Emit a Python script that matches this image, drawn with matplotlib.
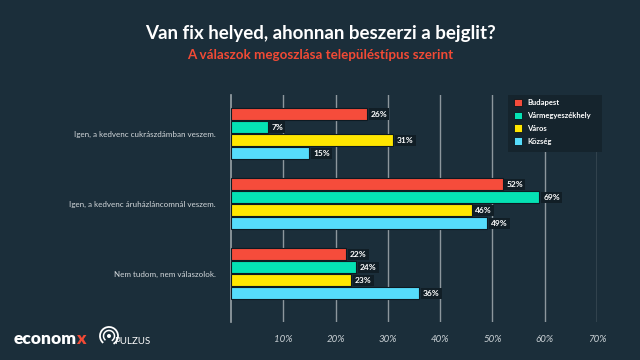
import matplotlib
matplotlib.use("Agg")
import matplotlib.pyplot as plt
import numpy as np
from matplotlib.patches import Rectangle, Arc, Circle

categories = ["Igen, a kedvenc cukrászdámban veszem.",
              "Igen, a kedvenc áruházláncomnál veszem.",
              "Nem tudom, nem válaszolok."]
series = ["Budapest", "Vármegyeszékhely", "Város", "Község"]
values = {
    "Budapest": [26, 52, 22],
    "Vármegyeszékhely": [7, 59, 24],
    "Város": [31, 46, 23],
    "Község": [15, 49, 36],
}
value_labels = {
    "Budapest": ["26%", "52%", "22%"],
    "Vármegyeszékhely": ["7%", "69%", "24%"],
    "Város": ["31%", "46%", "23%"],
    "Község": ["15%", "49%", "36%"],
}
xticks = [10, 20, 30, 40, 50, 60, 70]
xtick_labels = ["10%", "20%", "30%", "40%", "50%", "60%", "70%"]
colors = ["#f64c3b", "#05e2b4", "#ffe600", "#56dcfb"]

BG = "#1b2e3a"
plt.rcParams['font.family'] = ['Lato', 'DejaVu Sans']

fig = plt.figure(figsize=(6.4, 3.6), dpi=100, facecolor=BG)
ax = fig.add_axes([231/640, 1-322/360, (597-231)/640, (322-95)/360])
ax.set_facecolor("none")

step = 0.186
height = 0.172
y0 = np.arange(len(categories))
for i, s in enumerate(series):
    ys = y0 + (i - 1.5) * step
    ax.barh(ys, values[s], height=height, color=colors[i],
            edgecolor="#0d1a22", linewidth=0.8, zorder=3)
    for y, v, lab in zip(ys, values[s], value_labels[s]):
        ax.text(v + 0.7, y, lab, va="center", ha="left", color="white",
                fontsize=6, fontweight="bold", zorder=4,
                bbox=dict(boxstyle="square,pad=0.25", fc="#111e26", ec="none"))

ax.set_xlim(0, 70)
ax.set_ylim(2.686, -0.55)
ax.set_xticks(xticks)
ax.set_xticklabels(xtick_labels, fontsize=7, fontstyle="italic", color="#c9d0d4")
ax.tick_params(axis="x", length=0, pad=9)
ax.set_yticks(y0)
ax.set_yticklabels(categories, fontsize=5.8, color="#d3d8db")
ax.tick_params(axis="y", length=0, pad=11)
ax.grid(axis="x", color="#8d979d", linewidth=1.0, zorder=0)
for sp in ["top", "right", "bottom"]:
    ax.spines[sp].set_visible(False)
ax.spines["left"].set_color("#9aa3a8")
ax.spines["left"].set_linewidth(1.2)

# legend
fig.patches.append(Rectangle((508/640, 1-152/360), 94/640, 57/360,
                             transform=fig.transFigure, fc="#15242d", ec="none", zorder=5))
for i, s in enumerate(series):
    yy = 1 - (103 + i * 12.7) / 360
    fig.patches.append(Rectangle((514/640, yy - 3.5/360), 8/640, 7.5/360,
                                 transform=fig.transFigure, fc=colors[i],
                                 ec="#0b161c", lw=0.6, zorder=6))
    fig.text(527/640, yy, s, fontsize=5.5, fontweight="bold", color="white",
             va="center", ha="left", zorder=7)

# titles
fig.text(0.5, 1-33/360, "Van fix helyed, ahonnan beszerzi a bejglit?",
         ha="center", va="center", fontsize=13.5, fontweight="bold", color="white")
fig.text(0.5, 1-55/360, "A válaszok megoszlása településtípus szerint",
         ha="center", va="center", fontsize=9.6, fontweight="bold", color="#f24a35")

# logos
t = fig.text(14/640, 1-339/360, "econom", fontsize=12.5, fontweight="heavy",
             color="white", va="center", ha="left")
fig.canvas.draw()
bb = t.get_window_extent()
fig.text((bb.x1 - 1.5)/640, 1-339/360, "x", fontsize=12.5, fontweight="heavy",
         color="#f24a35", va="center", ha="left")
tr = fig.dpi_scale_trans
cx, cy = 1.09, (360 - 336) / 100
fig.patches.append(Arc((cx, cy), 0.18, 0.18, theta1=-60, theta2=230,
                       transform=tr, ec="white", lw=1.3))
fig.patches.append(Arc((cx, cy), 0.11, 0.11, theta1=-60, theta2=230,
                       transform=tr, ec="white", lw=1.1))
fig.patches.append(Circle((cx, cy), 0.02, transform=tr, fc="white", ec="none"))
fig.text(114/640, 1-341/360, "PULZUS", fontsize=7, color="white",
         va="center", ha="left")

fig.savefig("out.png", dpi=100, facecolor=BG)
